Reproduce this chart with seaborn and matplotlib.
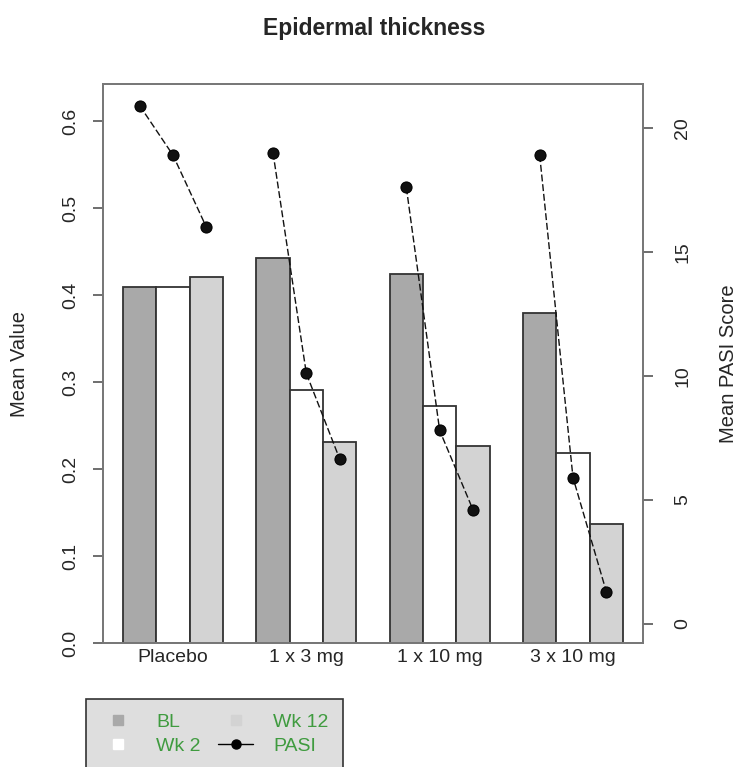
import numpy as np
import pandas as pd
import matplotlib
matplotlib.use("Agg")
import matplotlib.pyplot as plt
import seaborn as sns
from matplotlib.lines import Line2D

# ---------------- data ----------------
groups = ["Placebo", "1 x 3 mg", "1 x 10 mg", "3 x 10 mg"]
visits = ["BL", "Wk 2", "Wk 12"]
thick_bl = [0.410, 0.443, 0.425, 0.380]
thick_wk2 = [0.410, 0.291, 0.273, 0.219]
thick_wk12 = [0.421, 0.231, 0.227, 0.137]
pasi_bl = [20.9, 19.0, 17.6, 18.9]
pasi_wk2 = [18.9, 10.1, 7.8, 5.9]
pasi_wk12 = [16.0, 6.65, 4.6, 1.3]
left_ticks = [0.0, 0.1, 0.2, 0.3, 0.4, 0.5, 0.6]
right_ticks = [0, 5, 10, 15, 20]
bar_colors = ["#a9a9a9", "#ffffff", "#d3d3d3"]

sns.set_theme(style="white")
plt.rcParams["font.family"] = ["Liberation Sans", "DejaVu Sans"]

rows = []
for vis, vals in zip(visits, [thick_bl, thick_wk2, thick_wk12]):
    for g, v in zip(groups, vals):
        rows.append({"group": g, "visit": vis, "thickness": v})
df = pd.DataFrame(rows)

bar_width = 0.75
offsets = {v: (i - 1) * bar_width / len(visits) for i, v in enumerate(visits)}
prow = []
for vis, vals in zip(visits, [pasi_bl, pasi_wk2, pasi_wk12]):
    for gi, (g, v) in enumerate(zip(groups, vals)):
        prow.append({"group": g, "visit": vis, "xpos": gi + offsets[vis], "pasi": v})
pdf = pd.DataFrame(prow).sort_values(["group", "xpos"])

FS = 14

fig = plt.figure(figsize=(7.4, 7.67), dpi=100)
ax = fig.add_axes([103 / 740, 1 - 643 / 767, 540 / 740, (643 - 84) / 767])

sns.barplot(data=df, x="group", y="thickness", hue="visit", order=groups,
            hue_order=visits, palette=bar_colors, width=bar_width, gap=0,
            saturation=1, edgecolor="#333333", linewidth=1.3, legend=False, ax=ax)

ax.set_xlim(-0.525, 3.525)
ax.set_ylim(0, 0.643)
ax.set_yticks(left_ticks)
ax.set_yticklabels([f"{t:.1f}" for t in left_ticks], rotation=90, va="center")
ax.tick_params(axis="y", length=7, width=1.2, color="#555555", pad=10, labelsize=FS, left=True)
ax.tick_params(axis="x", length=0, pad=4, labelsize=FS)
ax.set_xlabel("")
ax.set_ylabel("Mean Value", fontsize=14.5)
ax.yaxis.label.set_va("center")
ax.yaxis.set_label_coords((20 - 103) / 540, 0.5)
for s in ax.spines.values():
    s.set_color("#777777")
    s.set_linewidth(1.3)

ax2 = ax.twinx()
sns.lineplot(data=pdf, x="xpos", y="pasi", units="group", estimator=None, sort=False,
             color="#111111", marker="o", markersize=8, markeredgecolor="black",
             linewidth=1.0, ax=ax2, legend=False)
for ln in ax2.lines:
    ln.set_dashes([5, 2])
ax2.set_ylim(-0.77, 21.77)
ax2.set_xlim(-0.525, 3.525)
ax2.set_yticks(right_ticks)
ax2.set_yticklabels([str(t) for t in right_ticks], rotation=90, va="center")
ax2.tick_params(axis="y", length=7, width=1.2, color="#555555", pad=15.5, labelsize=FS, right=True)
ax2.set_ylabel("Mean PASI Score", fontsize=14.5, rotation=90)
ax2.yaxis.label.set_va("center")
ax2.yaxis.set_label_coords((728 - 103) / 540, 0.5)
ax2.set_xlabel("")
for s in ax2.spines.values():
    s.set_color("#777777")
    s.set_linewidth(1.3)

fig.suptitle("Epidermal thickness", x=374 / 740, y=1 - 29 / 767, va="center",
             fontweight="bold", fontsize=16.5)

handles = [
    Line2D([], [], linestyle="none", marker="s", markersize=6.5, color=bar_colors[0]),
    Line2D([], [], linestyle="none", marker="s", markersize=6.5, color=bar_colors[1]),
    Line2D([], [], linestyle="none", marker="s", markersize=6.5, color=bar_colors[2]),
    Line2D([], [], linestyle="-", marker="o", markersize=6.5, color="black", linewidth=1.0),
]
leg = fig.legend(handles, visits + ["PASI"], loc="upper left",
                 bbox_to_anchor=(86 / 740, 1 - 699 / 767), ncol=2, fontsize=FS,
                 frameon=True, fancybox=False, facecolor="#dedede", edgecolor="#333333",
                 framealpha=1, handlelength=1.8, handletextpad=1.05, columnspacing=0.9,
                 labelspacing=0.3, borderpad=0.75, borderaxespad=0)
leg.get_frame().set_linewidth(1.2)
for t in leg.get_texts():
    t.set_color("#3f9b3f")

fig.savefig("out.png", dpi=100)
